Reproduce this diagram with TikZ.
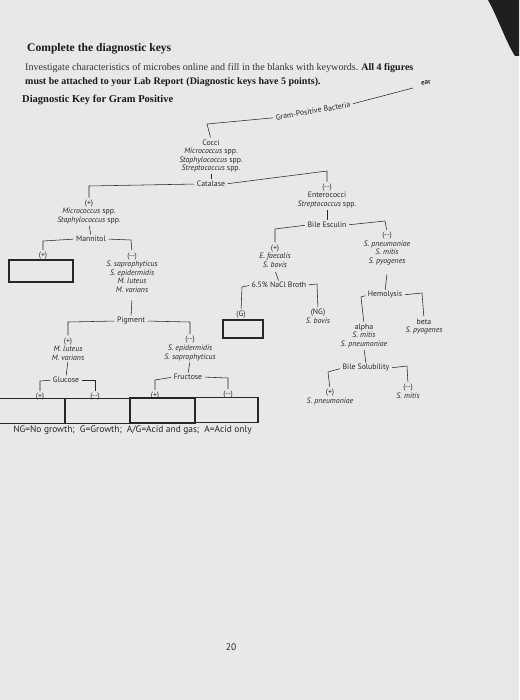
\documentclass[tikz,border=0pt]{standalone}
\usepackage{fontspec}
\setmainfont{Liberation Serif}
\newfontfamily\dsans{PT Sans}
\definecolor{paper}{RGB}{233,231,232}
\definecolor{ink}{RGB}{40,40,40}
\begin{document}
\begin{tikzpicture}[x=1pt,y=-1pt,
  lbl/.style={font=\dsans\fontsize{7.8}{8.6}\selectfont, inner sep=0pt, align=center, text=ink},
  legendtxt/.style={font=\dsans\fontsize{9.4}{11}\selectfont, inner sep=0pt, text=black!85},
  conn/.style={draw=ink, line width=0.55pt},
  drop/.style={conn, shorten >=2pt, shorten <=2.5pt},
  side/.style={conn, shorten <=2.5pt},
  tickln/.style={conn, shorten >=1.5pt, shorten <=1.5pt},
  blank/.style={draw=black!85, line width=1.3pt, inner sep=0pt},
  hdr/.style={font=\fontsize{10.1}{11}\selectfont, inner sep=0pt, text=black!80},
  hdrb/.style={font=\bfseries\fontsize{10}{11}\selectfont, inner sep=0pt, text=black!90},
  hl/.style={fill=black!9},
]
\fill[paper] (0,0) rectangle (519,700);
\useasboundingbox (0,0) rectangle (519,700);
% dark corner
\fill[black!88] (488,0) .. controls (498,18) and (506,42) .. (515,56) -- (519,56) -- (519,0) -- cycle;

% header
\node[hdrb, font=\bfseries\fontsize{11.6}{13}\selectfont, anchor=base west] (title) at (27,52) {Complete the diagnostic keys};
\node[hdr, anchor=base west] (inv1) at (25,70.5) {Investigate characteristics of microbes online and fill in the blanks with keywords.};
\node[hdrb, hl, anchor=base west] (inv2) at (inv1.base east) {\ All 4 figures};
\node[hdrb, anchor=base west] (must1) at (25,85) {must be attached to your Lab Report};
\node[hdrb, hl, anchor=base west] (must2) at (must1.base east) {\ (Diagnostic keys have 5 points).};
\node[hdrb, font=\bfseries\fontsize{10.5}{12}\selectfont, anchor=base west] (dk) at (22,103) {Diagnostic Key for Gram Positive};

% root
\node[lbl, rotate=10] (gpb) at (313,111) {Gram-Positive Bacteria};
\node[lbl, font=\dsans\bfseries\fontsize{7}{8}\selectfont, rotate=12] (ear) at (426,83) {ear};
\coordinate (gpL) at (207,124);
\coordinate (gpR) at (413,88);
\node[lbl] (cocci) at (211,156) {Cocci\\\textit{Micrococcus} spp.\\\textit{Staphylococcus} spp.\\\textit{Streptococcus} spp.};
\draw[drop] (gpb.west) -- (gpL) -- (cocci.north);
\draw[side] (gpb.east) -- (gpR);

\node[lbl] (cat) at (211,184) {Catalase};
\draw[tickln] (cocci.south) -- (cat.north);

% catalase +
\coordinate (catL) at (89,186);
\node[lbl] (p1) at (89,212) {(+)\\\textit{Micrococcus} spp.\\\textit{Staphylococcus} spp.};
\draw[drop] (cat.west) -- (catL) -- (p1.north);
\node[lbl] (mann) at (91,239) {Mannitol};
\draw[tickln] (p1.south) -- (mann.north);
\coordinate (maL) at (43,241);
\coordinate (maR) at (131,240);
\node[lbl] (p4) at (43,256) {(+)};
\node[blank, minimum width=64pt, minimum height=22pt] (b1) at (41,271) {};
\node[lbl] (m4) at (132,272.5) {(--)\\\textit{S. saprophyticus}\\\textit{S. epidermidis}\\\textit{M. luteus}\\\textit{M. varians}};
\draw[drop] (mann.west) -- (maL) -- (p4.north);
\draw[drop] (mann.east) -- (maR) -- (m4.north);

\node[lbl] (pig) at (131,321) {Pigment};
\draw[tickln] ([yshift=-6pt]m4.south) -- (pig.north);
\coordinate (piL) at (68,322);
\coordinate (piR) at (190,322);
\node[lbl] (p5) at (68,349) {(+)\\\textit{M. luteus}\\\textit{M. varians}};
\node[lbl] (m5) at (190,348.5) {(--)\\\textit{S. epidermidis}\\\textit{S. saprophyticus}};
\draw[drop] (pig.west) -- (piL) -- (p5.north);
\draw[drop] (pig.east) -- (piR) -- (m5.north);

\node[lbl] (gluc) at (66,380) {Glucose};
\node[lbl] (fruc) at (188,377) {Fructose};
\draw[tickln] (p5.south) -- (gluc.north);
\draw[tickln] (m5.south) -- (fruc.north);
\coordinate (glL) at (40,381);
\coordinate (glR) at (95,380);
\coordinate (frL) at (155,380);
\coordinate (frR) at (228,378);
\node[lbl] (p6) at (40,397) {(+)};
\node[lbl] (m6) at (95,396.5) {(--)};
\node[lbl] (p7) at (155,396) {(+)};
\node[lbl] (m7) at (228,395) {(--)};
\draw[drop] (gluc.west) -- (glL) -- (p6.north);
\draw[drop] (gluc.east) -- (glR) -- (m6.north);
\draw[drop] (fruc.west) -- (frL) -- (p7.north);
\draw[drop] (fruc.east) -- (frR) -- (m7.north);

\node[blank, minimum width=67pt, minimum height=25pt] (bx1) at (31.5,411) {};
\node[blank, minimum width=65pt, minimum height=25pt] (bx2) at (97.5,411) {};
\node[blank, minimum width=65pt, minimum height=25pt] (bx3) at (162.5,410.5) {};
\node[blank, minimum width=63pt, minimum height=25pt] (bx4) at (226.5,410) {};

\node[legendtxt] (legend) at (132.5,430) {NG=No growth;\ \ G=Growth;\ \ A/G=Acid and gas;\ \ A=Acid only};

% catalase -
\coordinate (catR) at (327,171);
\node[lbl] (m1) at (327,196) {(--)\\Enterococci\\\textit{Streptococcus} spp.};
\draw[drop] (cat.east) -- (catR) -- (m1.north);
\node[lbl] (besc) at (327,225) {Bile Esculin};
\draw[tickln] (m1.south) -- (besc.north);
\coordinate (beL) at (275,229);
\coordinate (beR) at (385,221);
\node[lbl] (p2) at (275,256) {(+)\\\textit{E. faecalis}\\\textit{S. bovis}};
\node[lbl] (m2) at (387,248.5) {(--)\\\textit{S. pneumoniae}\\\textit{S. mitis}\\\textit{S. pyogenes}};
\draw[drop] (besc.west) -- (beL) -- (p2.north);
\draw[drop] (besc.east) -- (beR) -- (m2.north);

\node[lbl] (nacl) at (279,285) {6.5\% NaCl Broth};
\draw[tickln] ([yshift=-3pt]p2.south) -- (nacl.north);
\coordinate (naL) at (242,287);
\coordinate (naR) at (317,284);
\node[lbl] (g1) at (241,315) {(G)};
\node[blank, minimum width=40pt, minimum height=18pt] (b5) at (243,329) {};
\node[lbl] (ng) at (318,316.5) {(NG)\\\textit{S. bovis}};
\draw[drop] (nacl.west) -- (naL) -- (g1.north);
\draw[drop] (nacl.east) -- (naR) -- (ng.north);

\node[lbl] (hemo) at (385,295) {Hemolysis};
\draw[tickln] ([yshift=-8pt]m2.south) -- (hemo.north);
\coordinate (heL) at (361,297);
\coordinate (heR) at (422,293);
\node[lbl] (alpha) at (364,336) {alpha\\\textit{S. mitis}\\\textit{S. pneumoniae}};
\node[lbl] (beta) at (424,326.5) {beta\\\textit{S. pyogenes}};
\draw[drop] (hemo.west) -- (heL) -- (alpha.north);
\draw[drop] (hemo.east) -- (heR) -- (beta.north);

\node[lbl] (bsol) at (366,368) {Bile Solubility};
\draw[tickln] (alpha.south) -- (bsol.north);
\coordinate (bsL) at (328,372);
\coordinate (bsR) at (407,366);
\node[lbl] (p3) at (330,397) {(+)\\\textit{S. pneumoniae}};
\node[lbl] (m3) at (408,391.5) {(--)\\\textit{S. mitis}};
\draw[drop] (bsol.west) -- (bsL) -- (p3.north);
\draw[drop] (bsol.east) -- (bsR) -- (m3.north);

\node[lbl, font=\dsans\fontsize{9.5}{11}\selectfont] (pg) at (231,647) {20};
\end{tikzpicture}
\end{document}
